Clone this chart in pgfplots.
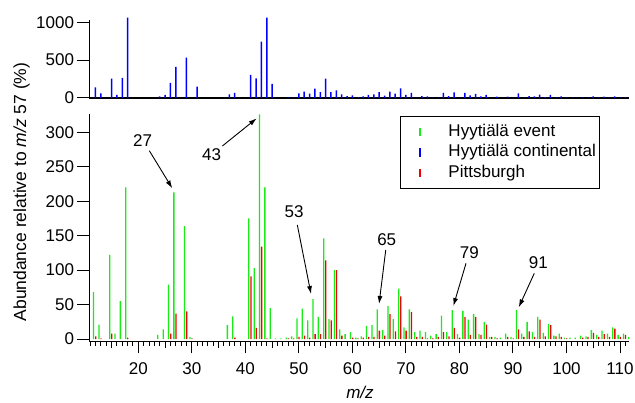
\documentclass[border=0pt]{standalone}
\usepackage{fontspec}
\setmainfont{Liberation Sans}
\usepackage{pgfplots}
\pgfplotsset{compat=1.18}
\usepackage{pgfplotstable}
\usetikzlibrary{arrows.meta}

\definecolor{evgreen}{RGB}{25,235,25}
\definecolor{ctblue}{RGB}{0,0,255}
\definecolor{pitred}{RGB}{245,0,0}

% Hyytiälä event spectrum (relative to m/z 57)
\pgfplotstableread{
mz val
12 68
13 21
15 122
16 8
17 55
18 220
24 6
25 14
26 79
27 213
29 164
30 3
37 20
38 33
41 175
42 103
43 326
44 220
45 45
46 1
47 1
48 2
49 4
50 30
51 44
52 27
53 58
54 32
55 146
56 29
57 100
58 14
59 7
60 10
61 2
62 4
63 19
64 20
65 43
66 13
67 48
68 29
69 73
70 17
71 43
72 10
73 12
74 10
75 5
76 7
77 34
78 10
79 42
80 7
81 41
82 28
83 36
84 7
85 25
86 3
87 3
88 2
89 8
90 3
91 42
92 8
93 25
94 10
95 32
96 9
97 22
98 5
99 8
100 2
101 2
102 2
103 5
104 4
105 13
106 6
107 12
108 8
109 17
110 6
111 8
112 3
}\eventdata

% Pittsburgh spectrum
\pgfplotstableread{
mz val
12 4
13 1
15 8
18 2
26 8
27 37
29 40
30 1
38 2
41 91
42 16
43 134
44 1
48 1
49 1
50 3
51 5
52 2
53 7
54 7
55 114
56 27
57 100
58 5
60 2
61 1
62 2
63 3
64 3
65 12
66 5
67 36
68 11
69 62
70 12
71 39
72 3
73 3
74 1
75 1
76 3
77 10
78 4
79 16
80 2
81 32
82 6
83 32
84 6
85 21
86 3
87 1
89 3
90 1
91 14
92 3
93 11
94 3
95 28
96 4
97 20
98 4
99 3
100 1
103 2
104 3
105 9
106 3
107 7
108 3
109 15
110 3
111 6
}\pittdata

% Hyytiälä continental spectrum
\pgfplotstableread{
mz val
12 141
13 62
15 256
16 40
17 265
18 1062
24 22
25 40
26 198
27 410
29 533
31 150
37 49
38 66
41 304
42 260
43 745
44 1062
45 185
48 9
49 9
50 62
51 84
52 57
53 124
54 79
55 256
56 79
57 100
58 49
59 26
60 35
61 9
62 22
63 40
64 49
65 79
66 31
67 84
68 57
69 128
70 40
71 66
72 5
73 26
74 22
75 5
76 5
77 66
78 26
79 75
80 5
81 66
82 35
83 53
84 22
85 40
86 5
87 18
88 3
89 18
90 3
91 62
92 5
93 26
94 22
95 44
96 13
97 40
98 8
99 22
100 5
101 5
102 3
103 9
104 5
105 22
106 5
107 18
108 5
109 22
110 5
111 13
}\contdata

\newcommand{\lblfont}{\fontsize{17}{20}\selectfont}

\pgfplotsset{
  msaxis/.style={
    scale only axis,
    width=539.5pt,
    xmin=10.88, xmax=111.68,
    axis x line*=bottom, axis y line*=left,
    axis line style={line width=1.2pt, -},
    tick align=outside,
    major tick length=12pt, minor tick length=4.5pt,
    every tick/.style={line width=1pt, black},
    tick label style={font=\lblfont},
    /pgf/number format/assume math mode=true,
    /pgf/number format/1000 sep={},
    clip=false,
  },
  sticks/.style={ybar, bar width=1.3pt, draw=none, fill=#1},
  legimg/.style={legend image code/.code={\path (-18pt,0pt) (25pt,0pt); \fill[#1] (-0.65pt,-3.9pt) rectangle (0.65pt,3.9pt);}},
}

\begin{document}
\begin{tikzpicture}
\useasboundingbox (-89.5pt,-61.5pt) rectangle (545.5pt,341.5pt);

% upper panel: continental spectrum
\begin{axis}[msaxis,
  at={(0pt,243.5pt)}, anchor=south west,
  height=78pt,
  ymin=0, ymax=1030,
  ytick={0,500,1000},
  xtick=\empty,
]
\addplot[sticks=ctblue, bar width=1.5pt, bar shift=0pt] table[x=mz, y=val] {\contdata};
\end{axis}

% lower panel: event and Pittsburgh spectra
\begin{axis}[msaxis,
  at={(0pt,0pt)}, anchor=south west,
  height=227.5pt,
  ymin=-3.6, ymax=326.6,
  ytick={0,50,...,300},
  xtick={20,30,...,110},
  minor xtick={11,12,...,111},
  extra x ticks={15,25,...,105},
  extra x tick labels={},
  extra x tick style={major tick length=7pt},
  xticklabel style={yshift=-5.5pt},
  legend cell align=left,
  legend style={at={(rel axis cs:0.5755,0.991)}, anchor=north west,
    draw=black, line width=1pt, inner xsep=1pt, inner ysep=5pt,
    font=\lblfont, row sep=0pt,
    nodes={inner xsep=3pt, inner ysep=2.6pt, text height=12pt, text depth=3.5pt}},
]
\addplot[sticks=evgreen, bar shift=-1.9pt, legimg=evgreen]
  table[x=mz, y=val] {\eventdata};
\addlegendentry{Hyytiälä event}
\addlegendimage{legimg=ctblue}
\addlegendentry{Hyytiälä continental}
\addplot[sticks=pitred, bar shift=0.2pt, legimg=pitred]
  table[x=mz, y=val] {\pittdata};
\addlegendentry{Pittsburgh}

% labelled fragments
\begin{scope}[font=\lblfont]
\node at (axis cs:20.82,287.8) {27};
\draw[-{Latex[length=8pt,width=5pt]}, line width=0.9pt] (axis cs:22.06,273.3) -- (axis cs:26.35,218.7);
\node at (axis cs:33.71,268.1) {43};
\draw[-{Latex[length=8pt,width=5pt]}, line width=0.9pt] (axis cs:35.70,280.1) -- (axis cs:42.12,320.3);
\node at (axis cs:49.09,184.3) {53};
\draw[-{Latex[length=8pt,width=5pt]}, line width=0.9pt] (axis cs:49.71,165.5) -- (axis cs:52.27,65.3);
\node at (axis cs:66.41,143.7) {65};
\draw[-{Latex[length=8pt,width=5pt]}, line width=0.9pt] (axis cs:66.23,129.2) -- (axis cs:64.98,50.8);
\node at (axis cs:81.85,125.3) {79};
\draw[-{Latex[length=8pt,width=5pt]}, line width=0.9pt] (axis cs:81.23,109.9) -- (axis cs:78.86,47.9);
\node at (axis cs:94.74,110.7) {91};
\draw[-{Latex[length=8pt,width=5pt]}, line width=0.9pt] (axis cs:93.99,95.4) -- (axis cs:91.08,46.0);
\end{scope}
\end{axis}

% shared axis titles
\node[rotate=90, font=\fontsize{17.5}{20}\selectfont] at (-68pt,149.5pt) {Abundance relative to \textit{m/z} 57 (\%)};
\node[font=\lblfont] at (270.5pt,-50.5pt) {\textit{m/z}};
\end{tikzpicture}
\end{document}
